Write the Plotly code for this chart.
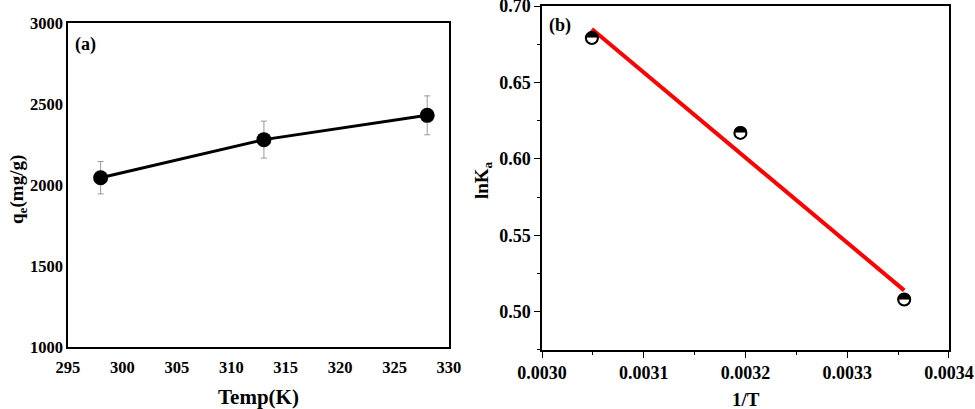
import plotly.graph_objects as go

# panel (a): adsorption capacity vs temperature
temp_k = [298, 313, 328]
qe = [2045, 2280, 2430]
qe_err = [100, 114, 120]

# panel (b): van't Hoff plot
inv_t = [0.003049, 0.003195, 0.003356]
ln_ka = [0.679, 0.617, 0.508]
fit_x = [0.003049, 0.003356]
fit_y = [0.685, 0.514]

FONT = "Liberation Serif"

fig = go.Figure()

fig.add_trace(go.Scatter(
    x=temp_k, y=qe, mode="lines+markers",
    line=dict(color="black", width=3),
    marker=dict(color="black", size=15),
    error_y=dict(type="data", array=qe_err, color="#999999", thickness=1, width=3),
    xaxis="x", yaxis="y", showlegend=False,
))

fig.add_trace(go.Scatter(
    x=fit_x, y=fit_y, mode="lines",
    line=dict(color="#ff0000", width=4),
    xaxis="x2", yaxis="y2", showlegend=False,
))
fig.add_trace(go.Scatter(
    x=inv_t, y=ln_ka, mode="markers",
    marker=dict(color="white", size=12, line=dict(color="black", width=2)),
    xaxis="x2", yaxis="y2", showlegend=False,
))
fig.add_trace(go.Scatter(
    x=inv_t, y=ln_ka, mode="text", text=["◓"] * 3,
    textfont=dict(family="DejaVu Sans", size=17, color="black"),
    textposition="middle center",
    xaxis="x2", yaxis="y2", showlegend=False,
))


def frame(size):
    return dict(showline=True, linecolor="black", linewidth=1.5, mirror=True,
                showgrid=False, zeroline=False, automargin=False,
                ticklabeloverflow="allow",
                tickfont=dict(family=FONT, size=size, color="black", weight="bold"))


fig.update_layout(
    width=975, height=409,
    margin=dict(l=0, r=0, t=0, b=0),
    plot_bgcolor="white", paper_bgcolor="white",
    font=dict(family=FONT, color="black"),
    xaxis=dict(domain=[0.0697, 0.4605], range=[295, 330], dtick=5,
               ticks="", ticklabelstandoff=4, anchor="y", **frame(16.5)),
    yaxis=dict(domain=[0.1516, 0.9438], range=[1000, 3000], dtick=500,
               ticks="", anchor="x", **frame(16.5)),
    xaxis2=dict(domain=[0.5559, 0.9733], range=[0.0030, 0.0034], dtick=0.0001,
                tickformat=".4f", ticks="outside", ticklen=6, tickcolor="black",
                minor=dict(ticks="outside", ticklen=3, dtick=0.00005, tickcolor="black"),
                anchor="y2", **frame(18)),
    yaxis2=dict(domain=[0.1443, 0.9853], range=[0.475, 0.70], dtick=0.05,
                tickformat=".2f", ticks="outside", ticklen=6, tickcolor="black",
                minor=dict(ticks="outside", ticklen=3, dtick=0.025, tickcolor="black"),
                anchor="x2", **frame(18)),
)

ann = [
    dict(text="<b>(a)</b>", x=73, y=44, xanchor="left", size=18),
    dict(text="<b>(b)</b>", x=547, y=25, xanchor="left", size=18),
    dict(text="<b>Temp(K)</b>", x=258, y=397, size=21),
    dict(text="<b>1/T</b>", x=746, y=399, size=19),
    dict(text="<b>q<sub>e</sub>(mg/g)</b>", x=18, y=190, size=19, angle=-90),
    dict(text="<b>lnK<sub>a</sub></b>", x=483, y=180, size=19, angle=-90),
]
for a in ann:
    fig.add_annotation(
        text=a["text"], xref="paper", yref="paper",
        x=a["x"] / 975, y=1 - a["y"] / 409,
        xanchor=a.get("xanchor", "center"), yanchor="middle",
        textangle=a.get("angle", 0), showarrow=False,
        font=dict(family=FONT, size=a.get("size", 15), color="black"),
    )

fig.write_html("out.html", config={"displayModeBar": False},
               post_script="document.body.style.margin = '0';")
